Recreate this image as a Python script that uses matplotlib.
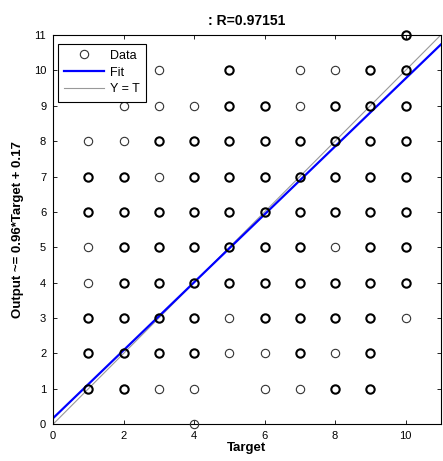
import numpy as np
import matplotlib.pyplot as plt

plt.rcParams['font.family'] = ['Liberation Sans', 'DejaVu Sans']

# output level -> targets seen at that level, and how many points overlap there
levels = [11, 10, 9, 8, 7, 6, 5, 4, 3, 2, 1, 0]
row_targets = [
    [10],
    [3, 5, 7, 8, 9, 10],
    [2, 3, 4, 5, 6, 7, 8, 9, 10],
    [1, 2, 3, 4, 5, 6, 7, 8, 9, 10],
    [1, 2, 3, 4, 5, 6, 7, 8, 9, 10],
    [1, 2, 3, 4, 5, 6, 7, 8, 9, 10],
    [1, 2, 3, 4, 5, 6, 7, 8, 9, 10],
    [1, 2, 3, 4, 5, 6, 7, 8, 9, 10],
    [1, 2, 3, 4, 5, 6, 7, 8, 9, 10],
    [1, 2, 3, 4, 5, 6, 7, 8, 9],
    [1, 2, 3, 4, 6, 7, 8, 9],
    [4],
]
row_counts = [
    [2],
    [1, 2, 1, 1, 2, 2],
    [1, 1, 1, 2, 2, 1, 2, 2, 2],
    [1, 1, 2, 2, 2, 2, 2, 2, 2, 2],
    [2, 2, 1, 2, 2, 2, 2, 2, 2, 2],
    [2, 2, 2, 2, 2, 2, 2, 2, 2, 2],
    [1, 2, 2, 2, 2, 2, 2, 1, 2, 2],
    [1, 2, 2, 2, 2, 2, 2, 2, 2, 2],
    [2, 2, 2, 2, 1, 2, 2, 2, 2, 1],
    [2, 2, 2, 2, 1, 1, 2, 1, 2],
    [2, 2, 1, 1, 1, 1, 2, 2],
    [1],
]
slope = 0.96
intercept = 0.17
r_value = 0.97151

target = np.array([t for ts in row_targets for t in ts], dtype=float)
output = np.array([lv for lv, ts in zip(levels, row_targets) for t in ts], dtype=float)
count = np.array([c for cs in row_counts for c in cs])

fig = plt.figure(figsize=(4.43, 4.61), dpi=100)
ax = fig.add_axes([0.12, 0.08, 0.875, 0.844])

single = count == 1
multi = count > 1
ax.plot(target[single], output[single], 'o', mfc='none', mec='#333333', ms=6,
        mew=0.8, clip_on=False, zorder=3, label='Data')
ax.plot(target[multi], output[multi], 'o', mfc='none', mec='black', ms=6,
        mew=1.5, clip_on=False, zorder=3)

xx = np.array([0, 11])
ax.plot(xx, slope * xx + intercept, color='#0000ff', lw=1.6, label='Fit', zorder=2)
ax.plot(xx, xx, color='#999999', lw=0.8, label='Y = T', zorder=1)

ax.set_xlim(0, 11)
ax.set_ylim(0, 11)
ax.set_xticks(range(0, 11, 2))
ax.set_yticks(range(0, 12))
ax.tick_params(direction='in', top=True, right=True, labelsize=8, length=3,
               width=0.6, pad=5)
for s in ax.spines.values():
    s.set_linewidth(0.8)

ax.set_title(': R=%.5f' % r_value, fontsize=10, fontweight='bold', pad=7)
ax.set_xlabel('Target', fontsize=9.5, fontweight='bold', labelpad=1)
ax.set_ylabel('Output ~= %.2g*Target + %.2g' % (slope, intercept), fontsize=9.5,
              fontweight='bold', labelpad=7)

leg = ax.legend(loc='upper left', bbox_to_anchor=(0.013, 0.978), fontsize=9,
                fancybox=False, framealpha=1, edgecolor='black', borderpad=0.5,
                handlelength=3.2, handletextpad=0.45, labelspacing=0.38,
                borderaxespad=0)
leg.get_frame().set_linewidth(0.8)

fig.savefig('out.png', dpi=100)
